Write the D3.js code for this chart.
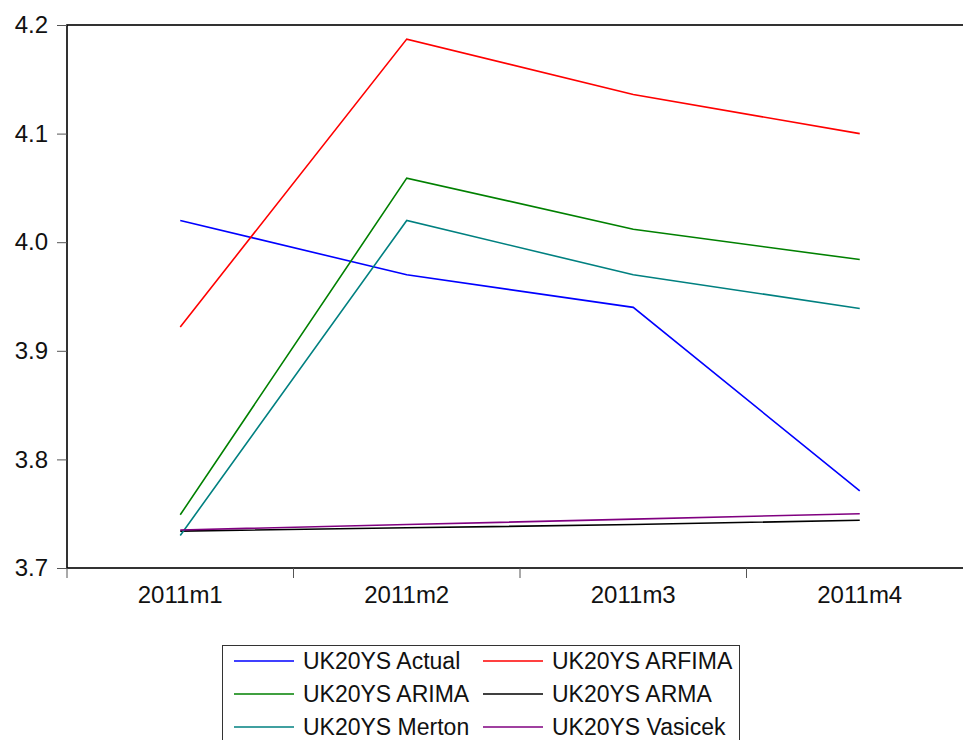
<!DOCTYPE html>
<meta charset="utf-8">
<style>
body { margin: 0; background: #fff; }
text { font-family: "Liberation Sans", Arial, sans-serif; fill: #111; }
</style>
<body>
<svg width="963" height="740"></svg>
<script src="https://d3js.org/d3.v7.min.js"></script>
<script>

var months = ["2011m1", "2011m2", "2011m3", "2011m4"];
var yTicks = [3.7, 3.8, 3.9, 4.0, 4.1, 4.2];

var seriesNames = ["UK20YS Actual", "UK20YS ARFIMA", "UK20YS ARIMA", "UK20YS ARMA", "UK20YS Merton", "UK20YS Vasicek"];
var actual  = [4.020, 3.970, 3.940, 3.771];
var arfima  = [3.922, 4.187, 4.136, 4.100];
var arima   = [3.749, 4.059, 4.012, 3.984];
var arma    = [3.734, 3.737, 3.740, 3.744];
var merton  = [3.730, 4.020, 3.970, 3.939];
var vasicek = [3.735, 3.740, 3.745, 3.750];
var colors = ["#0000ff", "#ff0000", "#008000", "#000000", "#008080", "#800080"];

var series = [actual, arfima, arima, arma, merton, vasicek].map(function(v, i) {
  return { name: seriesNames[i], values: v, color: colors[i] };
});

var svg = d3.select("svg");
var plotL = 67, plotT = 25, plotR = 973, plotB = 568;

var x = d3.scaleBand().domain(months).range([plotL, plotR]);
var y = d3.scaleLinear().domain([3.7, 4.2]).range([plotB, plotT]);

// frame (right side falls outside the picture)
svg.append("rect")
    .attr("x", plotL).attr("y", plotT)
    .attr("width", plotR - plotL).attr("height", plotB - plotT)
    .attr("fill", "none").attr("stroke", "#000").attr("stroke-width", 1.6);

// y axis
var yAxis = svg.append("g")
    .attr("transform", "translate(" + plotL + ",0)")
    .call(d3.axisLeft(y).tickValues(yTicks).tickSize(10).tickPadding(9)
      .tickFormat(d3.format(".1f")));
yAxis.select(".domain").remove();
yAxis.selectAll("line").attr("stroke", "#555");
yAxis.selectAll("text").style("font-size", "24px")
    .style("font-family", "'Liberation Sans', Arial, sans-serif").attr("fill", "#111");

// x axis: ticks at band edges, labels centred
var edges = months.map(function(m) { return x(m); });
svg.append("g").selectAll("line")
    .data(edges)
    .enter().append("line")
    .attr("x1", function(d) { return d; }).attr("x2", function(d) { return d; })
    .attr("y1", plotB).attr("y2", plotB + 10)
    .attr("stroke", "#555");

svg.append("g").selectAll("text")
    .data(months)
    .enter().append("text")
    .attr("x", function(d) { return x(d) + x.bandwidth() / 2; })
    .attr("y", 603)
    .attr("text-anchor", "middle")
    .style("font-size", "24px")
    .text(function(d) { return d; });

// lines
var line = d3.line()
    .x(function(d, i) { return x(months[i]) + x.bandwidth() / 2; })
    .y(function(d) { return y(d); });

svg.append("g").selectAll("path")
    .data(series)
    .enter().append("path")
    .attr("d", function(d) { return line(d.values); })
    .attr("fill", "none")
    .attr("stroke", function(d) { return d.color; })
    .attr("stroke-width", 1.6);

// legend
var legend = svg.append("g");
legend.append("rect")
    .attr("x", 222.5).attr("y", 645.5)
    .attr("width", 517).attr("height", 110)
    .attr("fill", "#fff").attr("stroke", "#333").attr("stroke-width", 1);

var item = legend.selectAll("g.item")
    .data(series)
    .enter().append("g")
    .attr("class", "item")
    .attr("transform", function(d, i) {
      var col = i % 2, row = Math.floor(i / 2);
      return "translate(" + (col ? 483 : 234) + "," + (661 + row * 33) + ")";
    });
item.append("line")
    .attr("x1", 0).attr("x2", 60)
    .attr("stroke", function(d) { return d.color; })
    .attr("stroke-width", 1.6);
item.append("text")
    .attr("x", 69).attr("y", 8)
    .style("font-size", "23px")
    .text(function(d) { return d.name; });

</script>
</body>
